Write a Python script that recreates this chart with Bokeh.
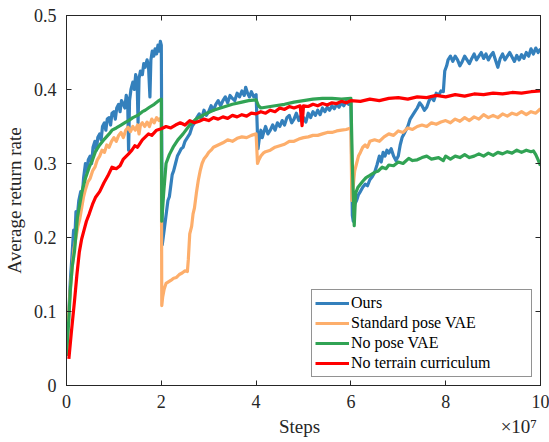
from bokeh.plotting import figure
from bokeh.models import Range1d, LinearAxis, Legend, LegendItem, FixedTicker
from bokeh.embed import file_html
from bokeh.resources import INLINE

# ---------------- data (x in units of 1e7 steps) ----------------
ours_x = [0.05, 0.08, 0.12, 0.15, 0.18, 0.2, 0.23, 0.26, 0.3, 0.33, 0.36, 0.4, 0.43, 0.46, 0.5, 0.53, 0.56,
          0.6, 0.63, 0.66, 0.7, 0.73, 0.76, 0.8, 0.83, 0.86, 0.9, 0.93, 0.96, 1.0, 1.03, 1.06, 1.1, 1.13,
          1.16, 1.2, 1.23, 1.26, 1.29, 1.31, 1.33, 1.36, 1.4, 1.43, 1.46, 1.49, 1.51, 1.53, 1.56, 1.6, 1.63,
          1.66, 1.7, 1.73, 1.76, 1.78, 1.81, 1.84, 1.87, 1.9, 1.93, 1.96, 1.98, 2.0,
          2.02, 2.05, 2.08, 2.11, 2.14, 2.17, 2.2, 2.23, 2.26, 2.3, 2.34, 2.38, 2.42, 2.46, 2.5, 2.55, 2.6,
          2.65, 2.7, 2.75, 2.8, 2.85, 2.9, 2.95, 3.0, 3.05, 3.1, 3.15, 3.2, 3.25, 3.3, 3.35, 3.4, 3.45, 3.5,
          3.55, 3.6, 3.65, 3.7, 3.75, 3.78, 3.82, 3.86, 3.9, 3.95, 4.0,
          4.04, 4.07, 4.1, 4.13, 4.16, 4.2, 4.25, 4.3, 4.35, 4.4, 4.45, 4.5, 4.55, 4.6, 4.65, 4.7, 4.75, 4.8,
          4.85, 4.9, 4.95, 5.0, 5.05, 5.1, 5.15, 5.2, 5.25, 5.3, 5.35, 5.4, 5.45, 5.5, 5.55, 5.6, 5.65, 5.7,
          5.75, 5.8, 5.85, 5.9, 5.95, 6.0,
          6.03, 6.05, 6.08, 6.12, 6.16, 6.2, 6.25, 6.3, 6.35, 6.4, 6.45, 6.5, 6.55, 6.6, 6.64, 6.68, 6.72,
          6.76, 6.8, 6.85, 6.9, 6.95, 7.0, 7.04, 7.08, 7.12, 7.16, 7.2, 7.25, 7.3, 7.35, 7.4, 7.45, 7.5, 7.55,
          7.6, 7.65, 7.7, 7.75, 7.8, 7.85, 7.9, 7.95, 7.98, 8.02,
          8.05, 8.1, 8.15, 8.2, 8.25, 8.3, 8.35, 8.4, 8.45, 8.5, 8.55, 8.6, 8.65, 8.7, 8.75, 8.8, 8.85, 8.9,
          8.95, 9.0, 9.05, 9.1, 9.15, 9.2, 9.25, 9.3, 9.35, 9.4, 9.45, 9.5, 9.55, 9.6, 9.65, 9.7, 9.75, 9.8,
          9.85, 9.9, 9.95, 10.0]
ours_y = [0.10, 0.14, 0.18, 0.21, 0.205, 0.235, 0.23, 0.25, 0.262, 0.255, 0.28, 0.30, 0.29, 0.305, 0.31, 0.30,
          0.322, 0.33, 0.318, 0.335, 0.34, 0.332, 0.35, 0.355, 0.345, 0.36, 0.362, 0.352, 0.368, 0.37, 0.36,
          0.375, 0.38, 0.37, 0.385, 0.38, 0.375, 0.392, 0.385, 0.318, 0.385, 0.40, 0.41, 0.40, 0.42, 0.41,
          0.355, 0.415, 0.425, 0.42, 0.435, 0.43, 0.44, 0.432, 0.39, 0.44, 0.452, 0.445, 0.455, 0.448, 0.46,
          0.452, 0.465, 0.46,
          0.19, 0.205, 0.22, 0.235, 0.25, 0.255, 0.27, 0.285, 0.29, 0.30, 0.31, 0.315, 0.32, 0.322, 0.33,
          0.335, 0.34, 0.35, 0.355, 0.362, 0.367, 0.36, 0.372, 0.365, 0.37, 0.378, 0.372, 0.38, 0.385, 0.378,
          0.385, 0.39, 0.382, 0.392, 0.388, 0.385, 0.395, 0.39, 0.398, 0.392, 0.403, 0.395, 0.39, 0.397,
          0.39, 0.393,
          0.32, 0.335, 0.345, 0.335, 0.342, 0.35, 0.34, 0.345, 0.352, 0.345, 0.355, 0.35, 0.358, 0.352, 0.362,
          0.365, 0.355, 0.36, 0.368, 0.358, 0.365, 0.362, 0.356, 0.368, 0.362, 0.37, 0.365, 0.372, 0.366,
          0.375, 0.37, 0.376, 0.372, 0.378, 0.374, 0.38, 0.376, 0.382, 0.378, 0.384, 0.38, 0.385,
          0.23, 0.222, 0.245, 0.25, 0.258, 0.262, 0.268, 0.272, 0.27, 0.278, 0.282, 0.288, 0.298, 0.31, 0.302,
          0.315, 0.31, 0.318, 0.314, 0.32, 0.31, 0.304, 0.31, 0.325, 0.335, 0.34, 0.345, 0.35, 0.36, 0.365,
          0.37, 0.375, 0.382, 0.378, 0.372, 0.376, 0.385, 0.39, 0.385, 0.395, 0.392, 0.398, 0.397, 0.425,
          0.432,
          0.44, 0.445, 0.438, 0.445, 0.44, 0.432, 0.438, 0.445, 0.44, 0.435, 0.442, 0.448, 0.44, 0.445, 0.45,
          0.442, 0.448, 0.44, 0.446, 0.45, 0.44, 0.43, 0.442, 0.448, 0.44, 0.445, 0.45, 0.444, 0.438, 0.446,
          0.44, 0.447, 0.442, 0.45, 0.445, 0.455, 0.448, 0.456, 0.45, 0.455]

std_x = [0.0, 0.04, 0.08, 0.12, 0.16, 0.2, 0.24, 0.28, 0.32, 0.36, 0.4, 0.45, 0.5, 0.55, 0.6, 0.65, 0.7,
         0.75, 0.8, 0.85, 0.9, 0.95, 1.0, 1.05, 1.1, 1.15, 1.2, 1.25, 1.3, 1.35, 1.4, 1.45, 1.5, 1.53, 1.56,
         1.6, 1.65, 1.7, 1.75, 1.8, 1.85, 1.9, 1.95, 2.0,
         2.01, 2.03, 2.06, 2.1, 2.15, 2.2, 2.26, 2.32, 2.38, 2.44, 2.5, 2.55, 2.57, 2.6, 2.64, 2.67, 2.7,
         2.74, 2.78, 2.82, 2.86, 2.9, 2.95, 3.0, 3.05, 3.1, 3.2, 3.3, 3.4, 3.5, 3.6, 3.7, 3.8, 3.9, 4.0,
         4.03, 4.06, 4.1, 4.15, 4.2, 4.3, 4.4, 4.5, 4.6, 4.7, 4.8, 4.9, 5.0, 5.1, 5.2, 5.3, 5.4, 5.5, 5.6,
         5.7, 5.8, 5.9, 6.0,
         6.02, 6.05, 6.08, 6.12, 6.16, 6.2, 6.25, 6.3, 6.35, 6.4, 6.5, 6.6, 6.7, 6.8, 6.9, 7.0, 7.1, 7.2,
         7.3, 7.4, 7.5, 7.6, 7.7, 7.8, 7.9, 8.0, 8.1, 8.2, 8.3, 8.4, 8.5, 8.6, 8.7, 8.8, 8.9, 9.0, 9.1, 9.2,
         9.3, 9.4, 9.5, 9.6, 9.7, 9.8, 9.9, 10.0]
std_y = [0.05, 0.09, 0.13, 0.16, 0.185, 0.20, 0.215, 0.225, 0.24, 0.255, 0.265, 0.275, 0.28, 0.29, 0.295,
         0.305, 0.31, 0.318, 0.315, 0.325, 0.322, 0.33, 0.335, 0.33, 0.338, 0.342, 0.335, 0.345, 0.349,
         0.343, 0.35, 0.345, 0.352, 0.34, 0.352, 0.355, 0.35, 0.356, 0.35, 0.36, 0.355, 0.362, 0.358, 0.362,
         0.108, 0.12, 0.13, 0.138, 0.14, 0.142, 0.145, 0.146, 0.15, 0.152, 0.155, 0.154, 0.17, 0.205, 0.215,
         0.232, 0.24, 0.26, 0.277, 0.29, 0.30, 0.306, 0.31, 0.315, 0.318, 0.322, 0.325, 0.328, 0.332, 0.33,
         0.334, 0.336, 0.335, 0.338, 0.34,
         0.30, 0.305, 0.31, 0.314, 0.316, 0.318, 0.322, 0.324, 0.326, 0.33, 0.33, 0.333, 0.335, 0.336,
         0.338, 0.338, 0.34, 0.342, 0.342, 0.344, 0.345, 0.346, 0.348,
         0.25, 0.27, 0.29, 0.30, 0.31, 0.315, 0.322, 0.325, 0.322, 0.33, 0.332, 0.33, 0.336, 0.34, 0.338,
         0.344, 0.342, 0.348, 0.346, 0.35, 0.352, 0.35, 0.355, 0.353, 0.356, 0.358, 0.355, 0.36, 0.357,
         0.362, 0.358, 0.363, 0.36, 0.366, 0.362, 0.365, 0.362, 0.367, 0.364, 0.368, 0.366, 0.37, 0.366,
         0.37, 0.368, 0.374]

nopose_x = [0.0, 0.05, 0.08, 0.12, 0.17, 0.2, 0.23, 0.28, 0.33, 0.4, 0.48, 0.55, 0.61, 0.7, 0.8, 0.9, 0.96,
            1.05, 1.15, 1.25, 1.31, 1.4, 1.5, 1.6, 1.66, 1.75, 1.85, 1.95, 2.0,
            2.01, 2.05, 2.1, 2.17, 2.25, 2.35, 2.46, 2.6, 2.73, 2.9, 3.1, 3.3, 3.5, 3.7, 3.84, 4.0,
            4.05, 4.1, 4.2, 4.4, 4.6, 4.8, 5.0, 5.2, 5.4, 5.6, 5.8, 6.0,
            6.03, 6.07, 6.1, 6.15, 6.2, 6.25, 6.32, 6.4, 6.5, 6.58, 6.66, 6.74, 6.8, 6.9, 7.0, 7.1, 7.22, 7.3,
            7.4, 7.5, 7.6, 7.7, 7.85, 7.95, 8.0, 8.1, 8.2, 8.3, 8.4, 8.5, 8.6, 8.7, 8.8, 8.9, 9.0, 9.1, 9.2,
            9.3, 9.4, 9.5, 9.6, 9.7, 9.8, 9.85, 9.9, 9.95, 10.0]
nopose_y = [0.04, 0.09, 0.128, 0.16, 0.182, 0.205, 0.227, 0.245, 0.263, 0.28, 0.295, 0.305, 0.316, 0.325,
            0.333, 0.34, 0.345, 0.348, 0.352, 0.356, 0.358, 0.362, 0.365, 0.37, 0.372, 0.376, 0.38, 0.385,
            0.387,
            0.222, 0.26, 0.30, 0.312, 0.322, 0.332, 0.34, 0.352, 0.36, 0.366, 0.372, 0.376, 0.38, 0.383, 0.385,
            0.386,
            0.378, 0.375, 0.376, 0.378, 0.38, 0.383, 0.385, 0.387, 0.388, 0.388, 0.387, 0.388,
            0.30, 0.216, 0.26, 0.268, 0.272, 0.276, 0.281, 0.284, 0.288, 0.29, 0.295, 0.293, 0.298, 0.297,
            0.302, 0.30, 0.307, 0.304, 0.305, 0.308, 0.31, 0.306, 0.308, 0.304, 0.31, 0.306, 0.31, 0.308,
            0.312, 0.308, 0.31, 0.313, 0.31, 0.314, 0.311, 0.315, 0.313, 0.316, 0.314, 0.318, 0.315, 0.318,
            0.316, 0.317, 0.312, 0.305, 0.297]

noterr_x = [0.05, 0.1, 0.17, 0.22, 0.27, 0.32, 0.37, 0.42, 0.48, 0.55, 0.61, 0.7, 0.79, 0.87, 0.96, 1.05,
            1.13, 1.2, 1.31, 1.38, 1.44, 1.5, 1.6, 1.73, 1.8, 1.9, 2.0, 2.1, 2.2, 2.3, 2.4, 2.5, 2.6, 2.7,
            2.8, 2.9, 3.0, 3.1, 3.2, 3.3, 3.4, 3.5, 3.6, 3.7, 3.8, 3.9, 4.0, 4.1, 4.2, 4.3, 4.4, 4.5, 4.6,
            4.7, 4.8, 4.93, 4.97, 5.0, 5.1, 5.2, 5.3, 5.4, 5.5, 5.6, 5.7, 5.8, 5.9, 6.0, 6.2, 6.4, 6.6, 6.8,
            7.0, 7.2, 7.4, 7.6, 7.8, 8.0, 8.2, 8.4, 8.6, 8.8, 9.0, 9.2, 9.4, 9.6, 9.8, 10.0]
noterr_y = [0.036, 0.07, 0.115, 0.15, 0.18, 0.198, 0.21, 0.222, 0.232, 0.245, 0.254, 0.262, 0.274, 0.283,
            0.295, 0.293, 0.297, 0.306, 0.313, 0.318, 0.324, 0.322, 0.332, 0.34, 0.338, 0.345, 0.347, 0.35,
            0.348, 0.352, 0.355, 0.352, 0.358, 0.355, 0.357, 0.36, 0.358, 0.362, 0.36, 0.363, 0.361, 0.365,
            0.363, 0.366, 0.364, 0.368, 0.367, 0.37, 0.368, 0.372, 0.37, 0.375, 0.373, 0.377, 0.375, 0.378,
            0.351, 0.378, 0.377, 0.38, 0.378, 0.381, 0.379, 0.382, 0.381, 0.384, 0.382, 0.385, 0.384, 0.387,
            0.385, 0.388, 0.389, 0.387, 0.39, 0.389, 0.392, 0.39, 0.393, 0.391, 0.394, 0.393, 0.395, 0.394,
            0.396, 0.395, 0.397, 0.398]

x_ticks = [0, 2, 4, 6, 8, 10]
y_ticks = [0, 0.1, 0.2, 0.3, 0.4, 0.5]
labels = ["Ours", "Standard pose VAE", "No pose VAE", "No terrain curriculum"]
colors = ["#3480BC", "#FDAE6B", "#31A354", "#FF0000"]
x_label, x_exponent = "Steps", "×10⁷"

FONT = "Liberation Serif"
AX = "#262626"
NBSP = "\u00a0"

p = figure(width=549, height=442, output_backend="svg", toolbar_location=None,
           x_range=Range1d(0, 10), y_range=Range1d(0, 0.5),
           min_border_left=64, min_border_right=9, min_border_top=15, min_border_bottom=57)
p.xgrid.visible = False
p.ygrid.visible = False
p.outline_line_color = AX
p.outline_line_width = 1
p.background_fill_color = "white"

for ax in (p.xaxis[0], p.yaxis[0]):
    ax.major_tick_in = 5
    ax.major_tick_out = 0
    ax.minor_tick_in = 0
    ax.minor_tick_out = 0
    ax.axis_line_color = AX
    ax.major_tick_line_color = AX
    ax.major_label_text_font = FONT
    ax.major_label_text_font_size = "18px"
    ax.major_label_text_color = AX
    ax.axis_label_text_font = FONT
    ax.axis_label_text_font_size = "19px"
    ax.axis_label_text_font_style = "normal"
    ax.axis_label_text_color = AX

p.xaxis[0].ticker = FixedTicker(ticks=x_ticks)
p.yaxis[0].ticker = FixedTicker(ticks=y_ticks)
p.yaxis[0].major_label_overrides = {0: "0"}
# "Steps" centred under the axis, the "×10⁷" exponent note pushed to the right end
p.xaxis[0].axis_label = NBSP * 44 + x_label + NBSP * 38 + x_exponent
p.yaxis[0].axis_label = "Average return rate"
p.xaxis[0].major_label_standoff = 9
p.xaxis[0].axis_label_standoff = 5
p.yaxis[0].major_label_standoff = 10
p.yaxis[0].axis_label_standoff = 6

def tick_only_axis(ticks):
    return LinearAxis(ticker=FixedTicker(ticks=ticks), major_label_text_font_size="1px",
                      major_label_text_color=None, major_tick_in=5, major_tick_out=0,
                      minor_tick_in=0, minor_tick_out=0, axis_line_color=AX,
                      major_tick_line_color=AX, major_label_standoff=0)

p.add_layout(tick_only_axis(x_ticks), "above")
p.add_layout(tick_only_axis(y_ticks), "right")

series = [(ours_x, ours_y), (std_x, std_y), (nopose_x, nopose_y), (noterr_x, noterr_y)]
renderers = []
for (xs, ys), c in zip(series, colors):
    r = p.line(xs, ys, line_color=c, line_width=3.2, line_join="round")
    renderers.append(r)

legend = Legend(items=[LegendItem(label=l, renderers=[r]) for l, r in zip(labels, renderers)],
                location="bottom_right", margin=8, padding=3, spacing=0,
                glyph_width=34, glyph_height=20, label_height=20, label_width=177,
                label_standoff=2, label_text_font=FONT, label_text_font_size="16px",
                label_text_color="black", border_line_color=AX, border_line_width=1,
                background_fill_color="white", background_fill_alpha=1.0)
p.add_layout(legend, "center")

open("out.html", "w").write(file_html(p, INLINE))
